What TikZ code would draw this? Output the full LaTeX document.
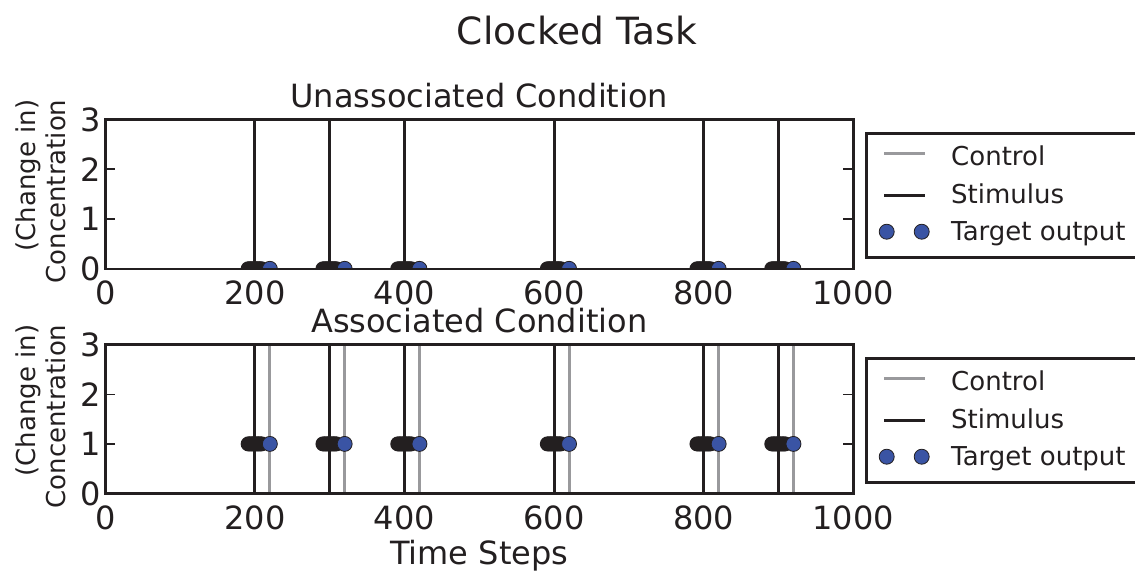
\documentclass[tikz,border=0pt]{standalone}
\usepackage{fontspec}
\setmainfont{DejaVu Sans}
\definecolor{ink}{RGB}{35,31,32}
\definecolor{ctrl}{RGB}{153,153,156}
\definecolor{tgt}{RGB}{58,84,164}
\begin{document}
\begin{tikzpicture}[x=1pt,y=-1pt,
  stimline/.style={draw=ink, line width=3pt},
  ctrlline/.style={draw=ctrl, line width=3pt},
  frameline/.style={draw=ink, line width=2.5pt},
  tickline/.style={draw=ink, line width=1.5pt},
  stimdot/.style={fill=ink},
  tgtdot/.style={fill=tgt, draw=ink, line width=0.8pt},
  lbl/.style={font=\fontsize{32}{38}\selectfont, text=ink, inner sep=0pt},
  leglbl/.style={font=\fontsize{26}{30}\selectfont, text=ink, inner sep=0pt, anchor=base west},
  ylbl/.style={font=\fontsize{26}{30}\selectfont, text=ink, inner sep=0pt, rotate=90, align=right},
  ttl/.style={font=\fontsize{37.5}{44}\selectfont, text=ink, inner sep=0pt, anchor=base}]
\useasboundingbox (0,0) rectangle (1135,571);

% title
\node[ttl] (title) at (577,44) {Clocked Task};

% ---------- top axes ----------
\node[lbl, anchor=base] (sub1) at (479.3,107) {Unassociated Condition};
\begin{scope}[shift={(105.3,268.8)}, x=0.748pt, y=49.8pt]
  \clip (0,0) rectangle (1000,3);
  \foreach \t in {200,300,400,600,800,900} {
    \draw[stimline] (\t,0) -- (\t,3.5);
  }
  \foreach \t in {200,300,400,600,800,900} {
    \foreach \d in {-9,-7,...,9} {
      \fill[stimdot] ({\t+\d},0) circle[radius=7.5pt];
    }
  }
  \foreach \t in {200,300,400,600,800,900} {
    \filldraw[tgtdot] ({\t+20},0) circle[radius=7.5pt];
  }
\end{scope}
\draw[frameline] (105.3,119.4) rectangle (853.3,268.8);
\foreach \y in {219,169.2} {
  \draw[tickline] (105.3,\y) -- (115.3,\y);
  \draw[tickline] (853.3,\y) -- (843.3,\y);
}
\node[lbl, anchor=east] (ya0) at (101,268.8) {0};
\node[lbl, anchor=east] (ya1) at (101,219) {1};
\node[lbl, anchor=east] (ya2) at (101,169.2) {2};
\node[lbl, anchor=east] (ya3) at (101,119.4) {3};
\node[lbl, anchor=north] (xa0) at (105.3,281) {0};
\node[lbl, anchor=north] (xa1) at (254.9,281) {200};
\node[lbl, anchor=north] (xa2) at (404.5,281) {400};
\node[lbl, anchor=north] (xa3) at (554.1,281) {600};
\node[lbl, anchor=north] (xa4) at (703.7,281) {800};
\node[lbl, anchor=north] (xa5) at (853.3,281) {1000};
\node[ylbl] (yla) at (41,191.5) {(Change in)\\Concentration};

% legend top
\draw[frameline] (866.7,133.3) rectangle (1145,257.3);
\coordinate (la1) at (884,153.3); \coordinate (la2) at (925,153.3);
\coordinate (lb1) at (884,195); \coordinate (lb2) at (925,195);
\draw[ctrlline] (la1) -- (la2);
\draw[stimline] (lb1) -- (lb2);
\filldraw[tgtdot] (886.7,231.7) circle[radius=7.5pt];
\filldraw[tgtdot] (921.7,231.7) circle[radius=7.5pt];
\node[leglbl] (lga) at (951,165) {Control};
\node[leglbl] (lgb) at (951,203) {Stimulus};
\node[leglbl] (lgc) at (951,240) {Target output};

% ---------- bottom axes ----------
\node[lbl, anchor=base] (sub2) at (479.3,332) {Associated Condition};
\begin{scope}[shift={(105.3,493.5)}, x=0.748pt, y=49.6pt]
  \clip (0,0) rectangle (1000,3);
  \foreach \t in {200,300,400,600,800,900} {
    \draw[ctrlline] ({\t+20},0) -- ({\t+20},3.5);
    \draw[stimline] (\t,0) -- (\t,3.5);
  }
  \foreach \t in {200,300,400,600,800,900} {
    \foreach \d in {-9,-7,...,9} {
      \fill[stimdot] ({\t+\d},1) circle[radius=7.5pt];
    }
  }
  \foreach \t in {200,300,400,600,800,900} {
    \filldraw[tgtdot] ({\t+20},1) circle[radius=7.5pt];
  }
\end{scope}
\draw[frameline] (105.3,344.7) rectangle (853.3,493.5);
\foreach \y in {443.9,394.3} {
  \draw[tickline] (105.3,\y) -- (115.3,\y);
  \draw[tickline] (853.3,\y) -- (843.3,\y);
}
\node[lbl, anchor=east] (yb0) at (101,493.5) {0};
\node[lbl, anchor=east] (yb1) at (101,443.9) {1};
\node[lbl, anchor=east] (yb2) at (101,394.3) {2};
\node[lbl, anchor=east] (yb3) at (101,344.7) {3};
\node[lbl, anchor=north] (xb0) at (105.3,506) {0};
\node[lbl, anchor=north] (xb1) at (254.9,506) {200};
\node[lbl, anchor=north] (xb2) at (404.5,506) {400};
\node[lbl, anchor=north] (xb3) at (554.1,506) {600};
\node[lbl, anchor=north] (xb4) at (703.7,506) {800};
\node[lbl, anchor=north] (xb5) at (853.3,506) {1000};
\node[ylbl] (ylb) at (41,416.5) {(Change in)\\Concentration};
\node[lbl, anchor=base] (xlab) at (479.3,564) {Time Steps};

% legend bottom
\draw[frameline] (866.7,358.3) rectangle (1145,482.3);
\coordinate (lc1) at (884,378.3); \coordinate (lc2) at (925,378.3);
\coordinate (ld1) at (884,420); \coordinate (ld2) at (925,420);
\draw[ctrlline] (lc1) -- (lc2);
\draw[stimline] (ld1) -- (ld2);
\filldraw[tgtdot] (886.7,456.7) circle[radius=7.5pt];
\filldraw[tgtdot] (921.7,456.7) circle[radius=7.5pt];
\node[leglbl] (lgd) at (951,390) {Control};
\node[leglbl] (lge) at (951,428) {Stimulus};
\node[leglbl] (lgf) at (951,465) {Target output};
\end{tikzpicture}
\end{document}
